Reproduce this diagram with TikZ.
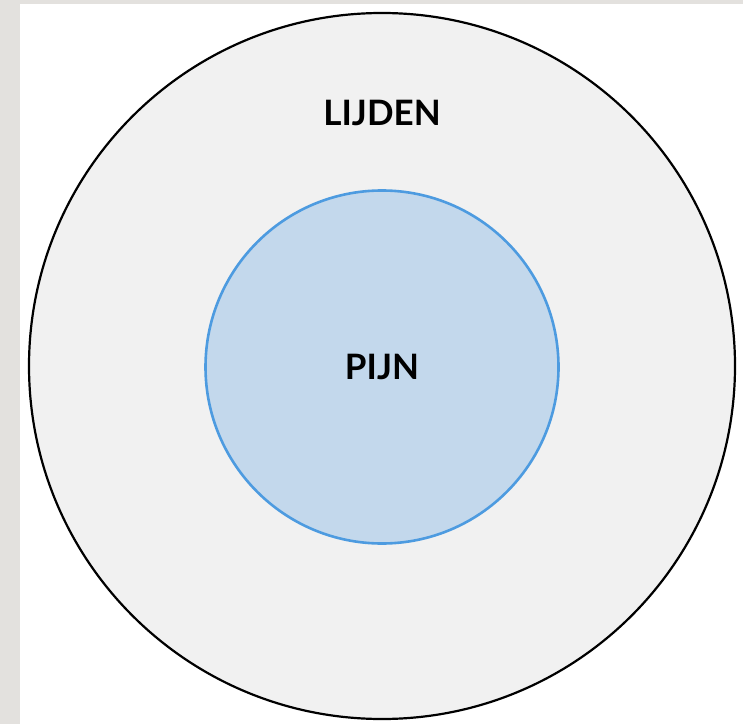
\documentclass[tikz,border=0pt]{standalone}
\usepackage{fontspec}
\setmainfont{Lato}
\usepackage{tikz}
\usetikzlibrary{positioning}
\definecolor{strookgrijs}{HTML}{E3E1DE}
\definecolor{lijdengrijs}{HTML}{F1F1F1}
\definecolor{pijnblauw}{HTML}{C3D8EC}
\definecolor{randblauw}{HTML}{4D9BE0}
\tikzstyle{buitenkreis} = [circle, draw=black, fill=lijdengrijs, line width=2.2pt, minimum size=706pt, inner sep=0pt]
\tikzstyle{binnenkreis} = [circle, draw=randblauw, fill=pijnblauw, line width=2.6pt, minimum size=353pt, inner sep=0pt]
\tikzstyle{tekst} = [font=\fontsize{35}{40}\selectfont\bfseries, inner sep=0pt]

\begin{document}
\begin{tikzpicture}[x=1pt, y=1pt]

	\useasboundingbox (0,0) rectangle (743,724);
	\fill[strookgrijs] (0,0) rectangle (743,724);
	\fill[white] (20,0) rectangle (743,720);

	\node [buitenkreis] (lijden) at (382,358) {};
	\node [binnenkreis, tekst] (pijn) at (382,357) {PIJN};
	\node [tekst, below=88pt of lijden.north] (lijdentekst) {LIJDEN};

\end{tikzpicture}
\end{document}
